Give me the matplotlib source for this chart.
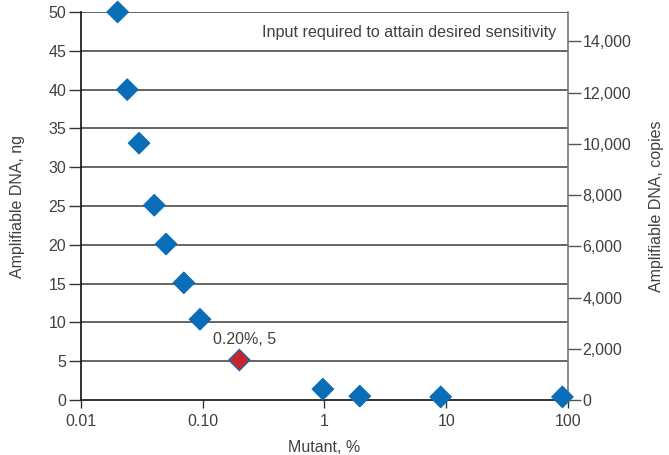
import matplotlib
matplotlib.use("Agg")
import matplotlib.pyplot as plt
from matplotlib.ticker import FixedLocator, FixedFormatter

plt.rcParams['font.family'] = ['Liberation Sans', 'DejaVu Sans']

mutant_pct = [0.02, 0.024, 0.03, 0.04, 0.05, 0.07, 0.095, 0.2, 0.97, 1.95, 9.0, 90.0]
dna_ng = [50, 40, 33.1, 25.1, 20.1, 15.1, 10.4, 5.15, 1.4, 0.5, 0.4, 0.4]
highlight_index = 7
highlight_label = "0.20%, 5"
copies_per_ng = 303

x_ticks = [0.01, 0.1, 1, 10, 100]
x_ticklabels = ["0.01", "0.10", "1", "10", "100"]
y_ticks = [0, 5, 10, 15, 20, 25, 30, 35, 40, 45, 50]
y2_ticks = [0, 2000, 4000, 6000, 8000, 10000, 12000, 14000]
y2_ticklabels = ["0", "2,000", "4,000", "6,000", "8,000", "10,000", "12,000", "14,000"]

text_color = "#404040"
blue = "#0a6db8"
red = "#c3262e"

fig = plt.figure(figsize=(6.69, 4.55), dpi=100)
ax = fig.add_axes([0.121, 0.1209, 0.728, 0.8527])
ax.set_xscale("log")
ax.set_xlim(0.01, 100)
ax.set_ylim(0, 50)

for y in y_ticks[1:]:
    ax.axhline(y, color="#4a4a4a", lw=1.2, zorder=1)

colors = [red if i == highlight_index else blue for i in range(len(mutant_pct))]
ax.scatter(mutant_pct, dna_ng, marker="D", s=120, c=colors, edgecolors=blue,
           linewidths=0.8, zorder=3, clip_on=False)

ax.annotate(highlight_label, (mutant_pct[highlight_index], dna_ng[highlight_index]),
            xytext=(3.5, 15), textcoords="offset points", ha="center", va="center",
            fontsize=11.5, color=text_color)

ax.text(0.975, 0.947, "Input required to attain desired sensitivity", transform=ax.transAxes,
        ha="right", va="center", fontsize=11.6, color=text_color)

ax.xaxis.set_major_locator(FixedLocator(x_ticks))
ax.xaxis.set_major_formatter(FixedFormatter(x_ticklabels))
ax.xaxis.set_minor_locator(FixedLocator([]))
ax.set_yticks(y_ticks)

ax.spines["top"].set_visible(False)
ax.spines["left"].set_color("#111111")
ax.spines["bottom"].set_color("#111111")
ax.spines["right"].set_color("#777777")
ax.spines["left"].set_linewidth(1.2)
ax.spines["bottom"].set_linewidth(1.2)
ax.spines["right"].set_linewidth(1.2)

ax.tick_params(axis="y", direction="out", length=9, width=1, color="#333333",
               labelsize=11.5, labelcolor=text_color, pad=1.5)
ax.tick_params(axis="x", direction="out", length=6, width=1, color="#333333",
               labelsize=11.5, labelcolor=text_color, pad=4)

ax.set_xlabel("Mutant, %", fontsize=11.5, color=text_color, labelpad=8)
ax.set_ylabel("Amplifiable DNA, ng", fontsize=11.5, color=text_color, labelpad=17)

ax2 = ax.twinx()
ax2.set_ylim(0, 50 * copies_per_ng)
ax2.set_yticks(y2_ticks)
ax2.set_yticklabels(y2_ticklabels)
for s in ["top", "left", "bottom", "right"]:
    ax2.spines[s].set_visible(False)
ax2.tick_params(axis="y", direction="out", length=9, width=1, color="#555555",
                labelsize=11.5, labelcolor=text_color, pad=1.5)
ax2.set_ylabel("Amplifiable DNA, copies", fontsize=11.5, color=text_color, labelpad=13)

fig.savefig("out.png", dpi=100)
